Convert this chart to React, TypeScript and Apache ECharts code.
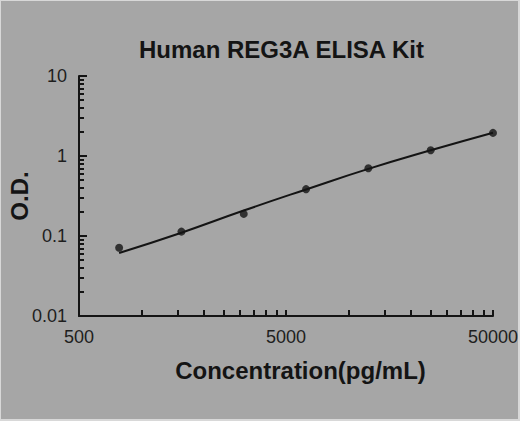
import { useEffect, useRef } from "react";
import * as echarts from "echarts";

// standard concentrations (pg/mL) and measured O.D.
const concentrations = [781.25, 1562.5, 3125, 6250, 12500, 25000, 50000];
const odValues = [0.0714, 0.1135, 0.189, 0.385, 0.702, 1.18, 1.945];
// fitted curve at the same concentrations
const fitValues = [0.0614, 0.11, 0.208, 0.382, 0.69, 1.179, 1.955];

const xTickLabels = [500, 5000, 50000];
const yTickLabels = [0.01, 0.1, 1, 10];
const minorMultipliers = [2, 3, 4, 5, 6, 7, 8, 9];

const FONT = "'Liberation Sans', Arial, sans-serif";
const INK = "#141414";
const BG = "#a6a6a6";

const lg = (v: number) => Math.log10(v);

export default function App() {
  const ref = useRef<HTMLDivElement>(null);

  useEffect(() => {
    if (!ref.current) return;
    const chart = echarts.init(ref.current, undefined, { renderer: "svg" });

    // log decades start at the labelled ticks (500, 5000 / 0.01, 0.1, 1)
    const xMinor = xTickLabels
      .slice(0, -1)
      .flatMap((d) => minorMultipliers.map((m) => lg(d * m)));
    const xTicks = [...xTickLabels.map(lg), ...xMinor];
    const yMinor = yTickLabels
      .slice(0, -1)
      .flatMap((d) => minorMultipliers.map((m) => lg(d * m)));

    const xMin = lg(xTickLabels[0]);
    const xMax = lg(xTickLabels[xTickLabels.length - 1]);
    const yMin = lg(yTickLabels[0]);
    const yMax = lg(yTickLabels[yTickLabels.length - 1]);

    const axisLine = { show: true, onZero: false, lineStyle: { color: INK, width: 2 } };
    const labelStyle = { color: "#1e1e1e", fontSize: 18, fontFamily: FONT, margin: 12 };

    chart.setOption({
      animation: false,
      backgroundColor: BG,
      title: {
        text: "Human REG3A ELISA Kit",
        left: 133,
        top: 31,
        textStyle: { color: INK, fontSize: 24, fontWeight: "bold", fontFamily: FONT },
      },
      grid: {
        left: 78,
        right: 25,
        top: 75,
        bottom: 103,
        containLabel: false,
        outerBoundsMode: "none",
      },
      xAxis: {
        type: "value",
        min: xMin,
        max: xMax,
        name: "Concentration(pg/mL)",
        nameLocation: "middle",
        nameGap: 42,
        nameMoveOverlap: false,
        nameTextStyle: {
          color: INK,
          fontSize: 24,
          fontWeight: "bold",
          fontFamily: FONT,
          padding: [0, 0, 0, 29],
        },
        axisLine,
        axisTick: {
          show: true,
          inside: true,
          length: 6,
          customValues: xTicks,
          lineStyle: { color: INK, width: 2 },
        },
        axisLabel: {
          ...labelStyle,
          customValues: xTickLabels.map(lg),
          formatter: (v: number) => String(Math.round(Math.pow(10, v))),
        },
        splitLine: { show: false },
      },
      yAxis: [
        {
          type: "value",
          min: yMin,
          max: yMax,
          name: "O.D.",
          nameLocation: "middle",
          nameGap: 48,
          nameRotate: 90,
          nameMoveOverlap: false,
          nameTextStyle: { color: INK, fontSize: 24, fontWeight: "bold", fontFamily: FONT },
          axisLine,
          axisTick: {
            show: true,
            inside: true,
            length: 8,
            customValues: yTickLabels.map(lg),
            lineStyle: { color: INK, width: 2 },
          },
          axisLabel: {
            ...labelStyle,
            customValues: yTickLabels.map(lg),
            formatter: (v: number) => {
              const i = yTickLabels.findIndex((t) => Math.abs(lg(t) - v) < 1e-6);
              return i >= 0 ? String(yTickLabels[i]) : "";
            },
          },
          splitLine: { show: false },
        },
        {
          // minor ticks only
          type: "value",
          position: "left",
          min: yMin,
          max: yMax,
          axisLine: { show: false, onZero: false },
          axisTick: {
            show: true,
            inside: true,
            length: 5,
            customValues: yMinor,
            lineStyle: { color: INK, width: 2 },
          },
          axisLabel: { show: false },
          splitLine: { show: false },
        },
      ],
      series: [
        {
          name: "fit",
          type: "line",
          smooth: true,
          showSymbol: false,
          lineStyle: { color: INK, width: 2 },
          data: concentrations.map((c, i) => [lg(c), lg(fitValues[i])]),
          z: 2,
        },
        {
          name: "standards",
          type: "scatter",
          symbolSize: 8,
          itemStyle: { color: INK },
          data: concentrations.map((c, i) => [lg(c), lg(odValues[i])]),
          z: 3,
        },
      ],
    });

    return () => chart.dispose();
  }, []);

  return (
    <div
      style={{
        position: "fixed",
        left: 0,
        top: 0,
        width: 520,
        height: 421,
        background: "#d8d8d8",
      }}
    >
      <div
        ref={ref}
        style={{
          position: "absolute",
          left: 1,
          top: 1,
          width: 517,
          height: 418,
          background: BG,
        }}
      />
    </div>
  );
}
